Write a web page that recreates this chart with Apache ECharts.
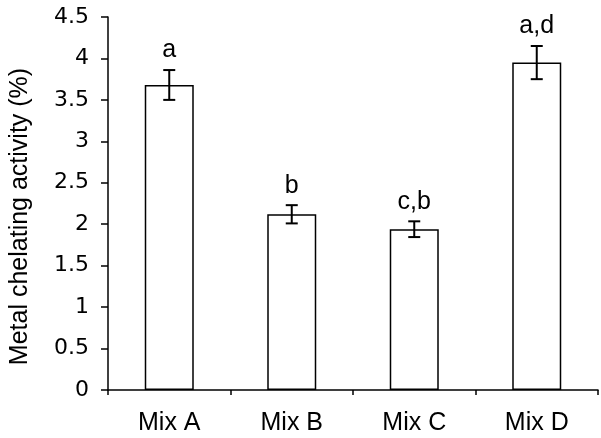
<!DOCTYPE html>
<html>
<head>
<meta charset="utf-8">
<script src="https://cdn.jsdelivr.net/npm/echarts@6/dist/echarts.min.js"></script>
<style>html,body{margin:0;padding:0;background:#fff;}#c{width:601px;height:438px;}</style>
</head>
<body>
<div id="c"></div>
<script>
var categories = ['Mix A', 'Mix B', 'Mix C', 'Mix D'];
var values = [3.68, 2.12, 1.94, 3.95];
var errors = [0.18, 0.11, 0.095, 0.2];
var letters = ['a', 'b', 'c,b', 'a,d'];
var yTicks = [0, 0.5, 1, 1.5, 2, 2.5, 3, 3.5, 4, 4.5];

var chart = echarts.init(document.getElementById('c'), null, {renderer: 'canvas'});
var errData = categories.map(function (c, i) { return [i, values[i] - errors[i], values[i] + errors[i]]; });

chart.setOption({
  animation: false,
  backgroundColor: '#fff',
  grid: {left: 107, right: 3, top: 17, bottom: 48, containLabel: false},
  xAxis: {
    type: 'category',
    data: categories,
    axisLine: {lineStyle: {color: '#000', width: 1.5}},
    axisTick: {show: true, length: 5, lineStyle: {color: '#000', width: 1.5}},
    axisLabel: {color: '#000', fontSize: 25, fontFamily: 'Liberation Sans', margin: 21}
  },
  yAxis: {
    type: 'value',
    min: 0, max: 4.5, interval: 0.5,
    name: 'Metal chelating activity (%)',
    nameLocation: 'middle',
    nameGap: 75,
    nameTextStyle: {color: '#000', fontSize: 25, fontFamily: 'Liberation Sans', padding: [0, 26, 0, 0]},
    axisLine: {show: true, lineStyle: {color: '#000', width: 1.5}},
    axisTick: {show: true, length: 7, lineStyle: {color: '#000', width: 1.5}},
    splitLine: {show: false},
    axisLabel: {
      color: '#000', fontSize: 22, fontFamily: 'DejaVu Sans', margin: 19,
      formatter: function (v) { return yTicks.indexOf(v) >= 0 ? String(v) : ''; }
    }
  },
  series: [
    {
      type: 'bar',
      data: values,
      barWidth: '40%',
      itemStyle: {color: '#fff', borderColor: '#000', borderWidth: 1.5}
    },
    {
      type: 'custom',
      data: errData,
      z: 10,
      renderItem: function (params, api) {
        var x = api.value(0);
        var lo = api.coord([x, api.value(1)]);
        var hi = api.coord([x, api.value(2)]);
        var hw = 6;
        var st = {stroke: '#000', lineWidth: 2};
        return {
          type: 'group',
          children: [
            {type: 'line', shape: {x1: lo[0], y1: lo[1], x2: hi[0], y2: hi[1]}, style: st},
            {type: 'line', shape: {x1: lo[0] - hw, y1: lo[1], x2: lo[0] + hw, y2: lo[1]}, style: st},
            {type: 'line', shape: {x1: hi[0] - hw, y1: hi[1], x2: hi[0] + hw, y2: hi[1]}, style: st},
            {type: 'text', style: {text: letters[params.dataIndex], x: hi[0], y: hi[1] - 7,
              textAlign: 'center', textVerticalAlign: 'bottom', fontSize: 25, fontFamily: 'Liberation Sans', fill: '#000'}}
          ]
        };
      }
    }
  ]
});
</script>
</body>
</html>
